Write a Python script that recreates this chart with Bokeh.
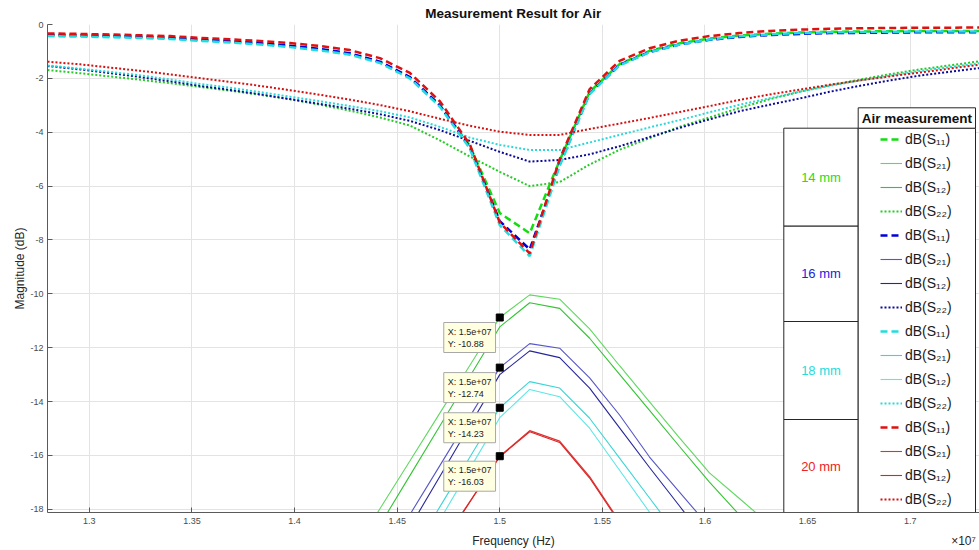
from bokeh.plotting import figure
from bokeh.models import Range1d, FixedTicker, Label, BoxAnnotation, Legend, LegendItem, LinearAxis
from bokeh.embed import file_html
from bokeh.resources import INLINE

# ---------------- data ----------------
freq_mhz = [12.796, 12.956, 13.102, 13.248, 13.394, 13.540, 13.686, 13.832, 13.978, 14.124,
            14.270, 14.416, 14.562, 14.708, 14.854, 15.000, 15.146, 15.292, 15.438, 15.584,
            15.730, 15.876, 16.022, 16.168, 16.314, 16.460, 16.606, 16.752, 16.898, 17.044,
            17.190, 17.336]

s11_14 = [-0.40, -0.42, -0.44, -0.47, -0.51, -0.58, -0.64, -0.71, -0.81, -0.93, -1.09, -1.40, -1.97,
          -3.00, -4.50, -7.00, -7.75, -5.05, -2.50, -1.47, -0.98, -0.70, -0.52, -0.41, -0.34, -0.30,
          -0.27, -0.26, -0.25, -0.24, -0.24, -0.24]
s11_16 = [-0.38, -0.40, -0.42, -0.45, -0.49, -0.56, -0.62, -0.69, -0.79, -0.91, -1.07, -1.38, -1.95,
          -3.00, -4.55, -7.30, -8.35, -5.20, -2.55, -1.50, -1.02, -0.74, -0.57, -0.46, -0.39, -0.35,
          -0.32, -0.31, -0.30, -0.29, -0.29, -0.29]
s11_18 = [-0.43, -0.45, -0.47, -0.50, -0.54, -0.61, -0.67, -0.74, -0.84, -0.96, -1.12, -1.43, -2.00,
          -3.05, -4.60, -7.45, -8.60, -5.25, -2.58, -1.52, -1.03, -0.74, -0.56, -0.44, -0.37, -0.32,
          -0.29, -0.28, -0.27, -0.26, -0.26, -0.26]
s11_20 = [-0.33, -0.35, -0.37, -0.40, -0.43, -0.50, -0.55, -0.61, -0.69, -0.80, -0.95, -1.25, -1.80,
          -2.85, -4.45, -7.35, -8.50, -5.00, -2.40, -1.35, -0.88, -0.60, -0.43, -0.32, -0.24, -0.19,
          -0.16, -0.14, -0.13, -0.12, -0.12, -0.11]

s22_14 = [-1.69, -1.81, -1.93, -2.05, -2.18, -2.32, -2.46, -2.61, -2.78, -2.98, -3.20, -3.45, -3.75,
          -4.30, -4.90, -5.47, -6.00, -5.85, -5.20, -4.65, -4.22, -3.80, -3.45, -3.10, -2.78, -2.50,
          -2.26, -2.05, -1.85, -1.67, -1.52, -1.37]
s22_16 = [-1.54, -1.67, -1.81, -1.95, -2.11, -2.28, -2.43, -2.59, -2.77, -2.95, -3.13, -3.33, -3.58,
          -3.92, -4.32, -4.73, -5.09, -5.03, -4.82, -4.52, -4.18, -3.84, -3.52, -3.22, -2.98, -2.75,
          -2.50, -2.28, -2.08, -1.90, -1.76, -1.62]
s22_18 = [-1.52, -1.64, -1.76, -1.89, -2.04, -2.21, -2.35, -2.51, -2.68, -2.85, -3.03, -3.22, -3.45,
          -3.80, -4.20, -4.47, -4.66, -4.66, -4.38, -4.10, -3.82, -3.55, -3.26, -2.98, -2.74, -2.50,
          -2.28, -2.08, -1.90, -1.73, -1.58, -1.44]
s22_20 = [-1.38, -1.48, -1.60, -1.72, -1.85, -1.99, -2.13, -2.28, -2.44, -2.61, -2.79, -2.99, -3.22,
          -3.50, -3.76, -3.98, -4.10, -4.10, -3.88, -3.68, -3.47, -3.25, -3.03, -2.80, -2.60, -2.42,
          -2.24, -2.08, -1.93, -1.79, -1.64, -1.50]

freq_s21_mhz = [14.270, 14.416, 14.562, 14.708, 14.854, 15.000, 15.146, 15.292, 15.438, 15.584,
                15.730, 15.876, 16.022, 16.168, 16.314]
s21_14 = [-19.76, -17.98, -16.21, -14.43, -12.66, -10.88, -10.04, -10.20, -11.30, -12.67, -14.01, -15.35, -16.65, -17.60, -18.56]
s12_14 = [-20.43, -18.59, -16.75, -14.91, -13.07, -11.23, -10.33, -10.54, -11.65, -12.99, -14.33, -15.67, -16.99, -18.21, -19.43]
s21_16 = [-21.84, -20.02, -18.20, -16.38, -14.56, -12.74, -11.85, -12.02, -13.12, -14.50, -16.06, -17.36, -18.66, -19.96, -21.26]
s12_16 = [-22.45, -20.56, -18.67, -16.78, -14.89, -13.00, -12.12, -12.37, -13.50, -14.98, -16.45, -17.88, -19.31, -20.74, -22.17]
s21_18 = [-23.43, -21.59, -19.75, -17.91, -16.07, -14.23, -13.26, -13.50, -14.62, -16.10, -17.58, -19.06, -20.54, -22.00, -23.50]
s12_18 = [-24.10, -22.20, -20.30, -18.40, -16.50, -14.60, -13.55, -13.82, -14.99, -16.55, -18.11, -19.67, -21.23, -22.79, -24.35]
s21_20 = [-24.43, -22.75, -21.07, -19.39, -17.71, -16.03, -15.08, -15.47, -16.79, -18.45, -20.11, -21.77, -23.43, -25.09, -26.75]
s12_20 = [-24.50, -22.81, -21.12, -19.43, -17.74, -16.05, -15.12, -15.52, -16.84, -18.50, -20.16, -21.82, -23.48, -25.14, -26.80]

tip_x = [15000000, 15000000, 15000000, 15000000]
tip_y = [-10.88, -12.74, -14.23, -16.03]

x_ticks = [13000000, 13500000, 14000000, 14500000, 15000000, 15500000, 16000000, 16500000, 17000000]
x_tick_labels = ["1.3", "1.35", "1.4", "1.45", "1.5", "1.55", "1.6", "1.65", "1.7"]
y_ticks = [-18, -16, -14, -12, -10, -8, -6, -4, -2, 0]
y_tick_labels = ["-18", "-16", "-14", "-12", "-10", "-8", "-6", "-4", "-2", "0"]

groups = ["14 mm", "16 mm", "18 mm", "20 mm"]
group_colors = ["#22dd22", "#2222dd", "#22dddd", "#ee2222"]
legend_labels = ["dB(S\u2081\u2081)", "dB(S\u2082\u2081)", "dB(S\u2081\u2082)", "dB(S\u2082\u2082)"]

# ---------------- figure ----------------
FONT = "Liberation Sans"
freq = [f * 1e6 for f in freq_mhz]
freq_s21 = [f * 1e6 for f in freq_s21_mhz]

X0, X1 = 12.796e6, 17.338e6
p = figure(width=979, height=550, output_backend="svg", toolbar_location=None,
           x_range=Range1d(X0, X1), y_range=Range1d(-18.12, 0),
           min_border_left=47, min_border_right=0, min_border_top=24, min_border_bottom=38)
p.outline_line_color = None
p.background_fill_color = "white"
p.border_fill_color = "white"

p.title.text = "Measurement Result for Air"
p.title.align = "center"
p.title.text_font = FONT
p.title.text_font_size = "13.5px"
p.title.text_font_style = "bold"
p.title.text_color = "#111111"
p.title.standoff = 7

xax = p.xaxis[0]
yax = p.yaxis[0]
for ax, ticks, labels in ((xax, x_ticks, x_tick_labels), (yax, y_ticks, y_tick_labels)):
    ax.ticker = FixedTicker(ticks=ticks)
    ax.major_label_overrides = {t: l for t, l in zip(ticks, labels)}
    ax.major_tick_in = 5
    ax.major_tick_out = 0
    ax.minor_tick_line_color = None
    ax.axis_line_color = "#5a5a5a"
    ax.major_tick_line_color = "#5a5a5a"
    ax.major_label_text_font = FONT
    ax.major_label_text_font_size = "9px"
    ax.major_label_text_color = "#4a4a4a"
    ax.major_label_standoff = 5
yax.major_label_standoff = 4
yax.axis_label = "Magnitude (dB)"
yax.axis_label_text_font = FONT
yax.axis_label_text_font_size = "12px"
yax.axis_label_text_font_style = "normal"
yax.axis_label_text_color = "#262626"
yax.axis_label_standoff = 0
p.xgrid.grid_line_color = "#e3e3e3"
p.ygrid.grid_line_color = "#e3e3e3"

# second row under the x axis: axis title and exponent, on the same line
x_mid = (X0 + X1) / 2
x_exp = X1 - (X1 - X0) * 16 / 932
lab_ax = LinearAxis(ticker=FixedTicker(ticks=[x_mid, x_exp]),
                    major_label_overrides={x_mid: "Frequency (Hz)", x_exp: "\u00d710\u2077"},
                    axis_line_color=None, major_tick_line_color=None, minor_tick_line_color=None,
                    major_label_text_font=FONT, major_label_text_font_size="12px",
                    major_label_text_color="#262626", major_label_standoff=1)
p.add_layout(lab_ax, "below")

s11_all = [s11_14, s11_16, s11_18, s11_20]
s22_all = [s22_14, s22_16, s22_18, s22_20]
s21_all = [s21_14, s21_16, s21_18, s21_20]
s12_all = [s12_14, s12_16, s12_18, s12_20]

c_s11 = ["#11dd11", "#0000dd", "#22dddd", "#e01010"]
c_s21 = ["#5fd85f", "#5656c8", "#3ad6d6", "#e03030"]
c_s12 = ["#33c433", "#26269a", "#5ee6e6", "#d82424"]
c_s22 = ["#22cc22", "#0a0a99", "#2ad8d8", "#d41010"]

items = []
for i in range(4):
    r11 = p.line(freq, s11_all[i], line_color=c_s11[i], line_width=2.5, line_dash="7 4")
    r21 = p.line(freq_s21, s21_all[i], line_color=c_s21[i], line_width=1.1)
    r12 = p.line(freq_s21, s12_all[i], line_color=c_s12[i], line_width=1.1)
    r22 = p.line(freq, s22_all[i], line_color=c_s22[i], line_width=2, line_dash="2 2")
    for lab, r in zip(legend_labels, (r11, r21, r12, r22)):
        items.append(LegendItem(label=lab, renderers=[r]))

p.scatter(tip_x, tip_y, marker="square", size=7, color="black")

# data tips
for tx, ty in zip(tip_x, tip_y):
    p.add_layout(Label(x=tx, y=ty, x_offset=-56, y_offset=-5,
                       text="X: %.1e\nY: %.2f" % (tx, ty),
                       text_align="left", text_baseline="top", text_font=FONT,
                       text_font_size="9px", text_color="#222222", text_line_height=1.2,
                       background_fill_color="#ffffe1", background_fill_alpha=1.0,
                       border_line_color="#a8a8a8", padding=4))

# legend boxes (screen units relative to the frame)
def sbox(l, r, b, t):
    return BoxAnnotation(left=l, right=r, bottom=b, top=t,
                         left_units="screen", right_units="screen",
                         bottom_units="screen", top_units="screen",
                         fill_color="white", fill_alpha=1.0,
                         line_color="#262626", line_alpha=1.0, line_width=1)

group_edges = [384.3, 286.3, 191.0, 93.0, 0.0]
for gi in range(4):
    p.add_layout(sbox(736.3, 810.7, group_edges[gi + 1], group_edges[gi]))
p.add_layout(sbox(810.7, 928.0, 0.0, 384.3))
p.add_layout(sbox(810.7, 928.0, 384.3, 404.7))

legend = Legend(items=items, location=(833, 1), padding=0, margin=0, spacing=0,
                glyph_width=22, glyph_height=24, label_height=24, label_standoff=3,
                label_text_font=FONT, label_text_font_size="14px", label_text_color="#1a1a1a",
                border_line_color=None, background_fill_alpha=0)
p.add_layout(legend)

p.add_layout(Label(x=869.4, y=394.5, x_units="screen", y_units="screen", text="Air measurement",
                   text_align="center", text_baseline="middle", text_font=FONT,
                   text_font_size="13.5px", text_font_style="bold", text_color="#111111"))

for gi in range(4):
    cy = (group_edges[gi] + group_edges[gi + 1]) / 2
    p.add_layout(Label(x=773.5, y=cy, x_units="screen", y_units="screen", text=groups[gi],
                       text_align="center", text_baseline="middle", text_font=FONT,
                       text_font_size="13px", text_color=group_colors[gi]))

open("out.html", "w").write(file_html(p, INLINE))
